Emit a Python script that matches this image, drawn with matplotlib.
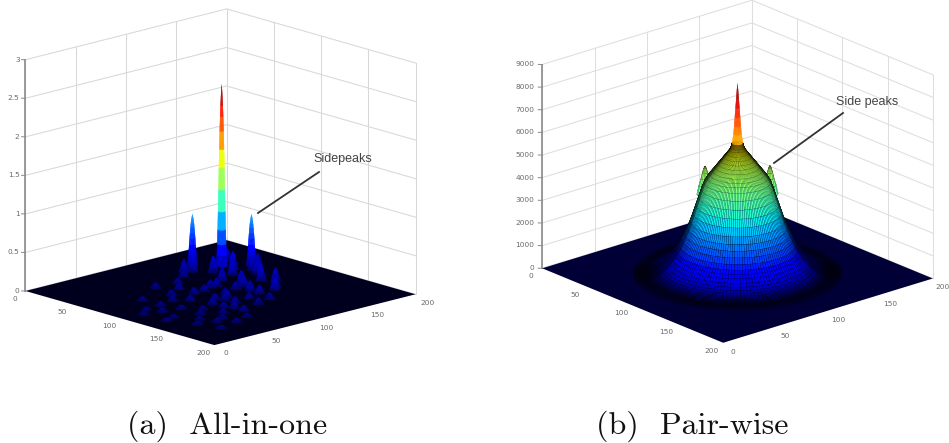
import matplotlib
matplotlib.use("Agg")
import matplotlib.pyplot as plt
import numpy as np
from matplotlib import cm
from mpl_toolkits.mplot3d import proj3d

W, H = 949, 443

tick_xy = [0, 50, 100, 150, 200]

# left panel
left_zticks = [0, 0.5, 1, 1.5, 2, 2.5, 3]
left_zlabels = ["0", "0.5", "1", "1.5", "2", "2.5", "3"]
left_peak_x = [48, 33, 62.5]
left_peak_y = [150, 135, 166]
left_peak_z = [2.36, 0.67, 0.67]
bump_x = [40, 44, 38, 55, 60, 70, 75, 80, 65, 50, 85, 90, 95, 100, 105, 110, 115, 120, 125, 130,
          88, 100, 112, 124, 136, 70, 84, 98, 112, 126, 140, 150, 80, 95, 110, 125, 140, 155, 105, 120,
          60, 72, 92, 108, 118, 132, 146, 160, 76, 96, 116, 136, 150, 165, 58, 128, 142, 170, 88, 104]
bump_y = [120, 125, 165, 135, 150, 140, 125, 155, 170, 110, 110, 130, 145, 115, 100, 120, 90, 135, 105, 75,
          85, 70, 95, 60, 80, 160, 105, 125, 50, 90, 65, 55, 70, 45, 85, 30, 100, 45, 150, 120,
          95, 85, 60, 35, 75, 50, 80, 70, 45, 30, 140, 115, 30, 55, 75, 20, 40, 35, 95, 20]
bump_z = [0.16, 0.22, 0.14, 0.21, 0.24, 0.19, 0.16, 0.18, 0.16, 0.1, 0.11, 0.16, 0.21, 0.1, 0.08, 0.13, 0.07, 0.16, 0.08, 0.07,
          0.08, 0.07, 0.1, 0.05, 0.08, 0.16, 0.1, 0.14, 0.05, 0.08, 0.05, 0.05, 0.07, 0.05, 0.08, 0.04, 0.08, 0.05, 0.18, 0.11,
          0.07, 0.08, 0.07, 0.05, 0.08, 0.05, 0.07, 0.05, 0.05, 0.04, 0.11, 0.08, 0.04, 0.05, 0.07, 0.04, 0.04, 0.04, 0.08, 0.04]
peak_r = [0, 0.3, 0.6, 0.9, 1.2, 1.5, 1.8, 2.1, 2.4, 2.7, 3, 3.3, 3.6, 4.2]
peak_frac = [1, 0.97, 0.93, 0.88, 0.82, 0.74, 0.64, 0.54, 0.42, 0.3, 0.2, 0.12, 0.06, 0]

# right panel
right_zticks = [0, 1000, 2000, 3000, 4000, 5000, 6000, 7000, 8000, 9000]
right_zlabels = [str(v) for v in right_zticks]
mound_r = [0, 0.5, 1, 1.5, 2, 2.5, 3, 4, 5, 6, 8, 10, 12, 14, 16, 18, 20, 22, 24, 26, 28, 30,
           32, 34, 36, 38, 40, 42, 44, 46, 48, 50, 52, 54, 56, 58, 60, 62, 64, 66, 68, 70, 72, 75]
mound_z = [8400, 8100, 7700, 7300, 6900, 6500, 6150, 5750, 5550, 5450, 5300, 5150, 5000, 4850, 4700,
           4550, 4400, 4250, 4050, 3750, 3400, 3050, 2700, 2350, 2050, 1800, 1550, 1300, 1100, 950,
           800, 650, 520, 420, 330, 260, 200, 150, 110, 80, 50, 30, 15, 0]
mound_bright = [1] * 33 + [0.9, 0.8, 0.65, 0.55, 0.42, 0.28, 0.22, 0.25, 0.3, 0.36, 0.42]
sector_bright = [1, 1, 0.9, 0.5, 0.5, 0.9, 1, 1, 1, 1, 1, 1, 1, 1,
                 1, 1, 0.9, 0.5, 0.5, 0.9, 1, 1, 1, 1, 1, 1, 1, 1]
side_x = [85, 115, 117]
side_y = [82, 118, 83]
side_r = [0, 1, 2, 3, 4.5, 6]
side_z = [4750, 4650, 4450, 4200, 3900, 3500]

captions = ["(a)  All-in-one", "(b)  Pair-wise"]
caption_x = [227, 692]
notes = ["Sidepeaks", "Side peaks"]
note_xy = [(343, 159), (867, 102)]
note_line_x = [(319, 258), (843, 774)]
note_line_y = [(172, 213), (113, 163)]

TICK_FONT = 5.3
TICK_COLOR = "#6a6a6a"


def make_axes(fig, az, el, aspect, zmax, cx, cy, side_px):
    # view span of mplot3d is -0.095..0.09, box side comes from the aspect
    box = 1.8294640721620434 * 25 / 24 / np.linalg.norm(aspect)
    size = side_px / box * 10 * 0.185
    left = cx - size * 0.95 / 1.85
    bottom = (H - cy) - size * 0.95 / 1.85
    ax = fig.add_axes([left / W, bottom / H, size / W, size / H], projection="3d", computed_zorder=False)
    ax.set_proj_type("ortho")
    ax.view_init(elev=el, azim=az)
    ax.set_box_aspect(aspect)
    ax.set_xlim(0, 200, view_margin=0)
    ax.set_ylim(0, 200, view_margin=0)
    ax.set_zlim(0, zmax, view_margin=0)
    ax.set_axis_off()
    ax.patch.set_alpha(0)
    return ax


def draw_frame(ax, zticks, zmax, grid_color):
    grid = dict(color=grid_color, lw=0.75, zorder=1)
    for z in zticks:
        ax.plot([0, 0, 200], [0, 200, 200], [z, z, z], **grid)
    for v in tick_xy:
        ax.plot([0, 0], [v, v], [0, zmax], **grid)
        ax.plot([v, v], [200, 200], [0, zmax], **grid)
    ax.plot([0, 0], [0, 0], [0, zmax], color="#8a8a8a", lw=1.2, zorder=2)
    for z in zticks:
        ax.plot([0, -2], [0, -2], [z, z], color="#8a8a8a", lw=0.7, zorder=2)


def draw_floor(ax, color):
    xx, yy = np.meshgrid(np.array([0, 200]), np.array([0, 200]))
    ax.plot_surface(xx, yy, np.zeros_like(xx), color=color, shade=False, linewidth=0, zorder=3)


def polar_surface(ax, x0, y0, radii, heights, zmax, sectors=16, bright=None, around=None, lw=0.0, order=4):
    theta = np.linspace(0, 2 * np.pi, sectors + 1)
    rr, tt = np.meshgrid(np.array(radii), theta)
    zz = np.tile(np.array(heights), (sectors + 1, 1))
    colors = cm.jet(zz / zmax)
    if bright is not None:
        colors[..., :3] = colors[..., :3] * np.array(bright)[None, :, None]
    if around is not None:
        fade = np.repeat(around, sectors // len(around))
        fade = np.append(fade, fade[0])
        colors[..., :3] = colors[..., :3] * fade[:, None, None]
    ax.plot_surface(x0 + rr * np.cos(tt), y0 + rr * np.sin(tt), zz, facecolors=colors,
                    rstride=1, cstride=1, shade=False, linewidth=lw, edgecolor="black", zorder=order)


def to_pixels(ax, x, y, z):
    px, py, _ = proj3d.proj_transform(x, y, z, ax.get_proj())
    return ax.transData.transform((px, py))


def tick_labels(over, ax, zticks, zlabels, xoff, yoff, zoff):
    # tick labels go on the flat overlay, at the projected spot of each tick
    for z, lab in zip(zticks, zlabels):
        p = to_pixels(ax, zoff[0], zoff[1], z)
        over.text(p[0], H - p[1], lab, fontsize=TICK_FONT, color=TICK_COLOR, ha="right", va="center")
    for v in tick_xy:
        p = to_pixels(ax, v + xoff[0], xoff[1], 0)
        over.text(p[0], H - p[1], str(v), fontsize=TICK_FONT, color=TICK_COLOR, ha="center", va="center")
        p = to_pixels(ax, 200 + yoff[0], v + yoff[1], 0)
        over.text(p[0], H - p[1], str(v), fontsize=TICK_FONT, color=TICK_COLOR, ha="center", va="center")


fig = plt.figure(figsize=(W / 100, H / 100), dpi=100)

# (a)
ax1 = make_axes(fig, -43.2, 15.6, (1, 1, 0.87), 3, 220.5, 177, 276)
draw_frame(ax1, left_zticks, 3, "#d8d8d8")
draw_floor(ax1, "#00001e")
spikes = list(zip(left_peak_x + bump_x, left_peak_y + bump_y, left_peak_z + bump_z))
spikes.sort(key=lambda p: p[0] * 0.73 - p[1] * 0.68)
for i, (x, y, z) in enumerate(spikes):
    polar_surface(ax1, x, y, peak_r, [z * f for f in peak_frac], 2.36, sectors=14, order=4 + i)

# (b)
ax2 = make_axes(fig, -40.8, 20.8, (1, 1, 0.787), 9000, 737.5, 171.5, 277)
draw_frame(ax2, right_zticks, 9000, "#dedede")
draw_floor(ax2, "#000036")
for i in range(3):
    order = 4 + i if i < 2 else 4
    polar_surface(ax2, side_x[i], side_y[i], side_r, side_z, 8400, sectors=14, lw=0.1, order=order)
polar_surface(ax2, 100, 100, mound_r[7:], mound_z[7:], 8400, sectors=140, bright=mound_bright[7:],
              around=sector_bright, lw=0.1, order=8)
polar_surface(ax2, 100, 100, mound_r[:8], mound_z[:8], 8400, sectors=28, order=9)

# labels and pointers on top, in image pixels
over = fig.add_axes([0, 0, 1, 1])
over.set_xlim(0, W)
over.set_ylim(H, 0)
over.axis("off")
fig.canvas.draw()
tick_labels(over, ax1, left_zticks, left_zlabels, (10, -20), (22, -9), (-3, -3))
tick_labels(over, ax2, right_zticks, right_zlabels, (6.7, -17), (18.5, -6.4), (-4, -4))
for i in range(2):
    over.plot(note_line_x[i], note_line_y[i], color="#333333", lw=1.3)
    over.text(note_xy[i][0], note_xy[i][1], notes[i], fontsize=9, color="#444444",
              family="Liberation Sans", ha="center", va="center")
    over.text(caption_x[i], 426, captions[i], fontsize=23, color="#111111",
              family="cmr10", ha="center", va="center")

fig.savefig("out.png", dpi=100)
